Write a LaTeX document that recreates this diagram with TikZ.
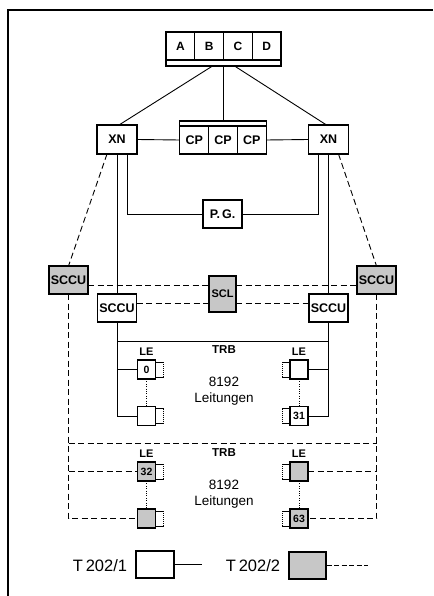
\documentclass[tikz,border=0pt]{standalone}
\usepackage{fontspec}
\setmainfont{Liberation Sans}
\usepackage{tikz}
\usetikzlibrary{positioning,calc}

\begin{document}
\begin{tikzpicture}[x=1pt,y=-1pt,line width=0.9pt,
  box/.style={draw,line width=1.1pt,inner sep=0pt,outer sep=0pt,minimum width=39pt,minimum height=28pt,font=\bfseries\fontsize{12.5}{12}\selectfont},
  cell/.style={draw,line width=1.1pt,inner sep=0pt,outer sep=0pt,minimum width=28.75pt,minimum height=28pt,font=\bfseries\fontsize{12}{12}\selectfont},
  strip/.style={draw,line width=1.1pt,inner sep=0pt,outer sep=0pt,anchor=north west},
  shaded/.style={fill=black!22,line width=1.4pt},
  lebox/.style={draw,line width=1.1pt,inner sep=0pt,outer sep=0pt,minimum width=18pt,minimum height=19pt,font=\bfseries\fontsize{10.5}{10}\selectfont},
  lelabel/.style={font=\bfseries\fontsize{11}{11}\selectfont,inner sep=0pt},
  trblabel/.style={font=\bfseries\fontsize{11.5}{11}\selectfont},
  lines/.style={font=\fontsize{13.5}{16}\selectfont,align=center},
  legtext/.style={font=\fontsize{16.5}{17}\selectfont},
  dashline/.style={dash pattern=on 6pt off 3.5pt},
  dotline/.style={line width=0.9pt,dash pattern=on 0.8pt off 1.6pt}]
\useasboundingbox (0,0) rectangle (433,596);
% frame
\draw[line width=1.2pt] (433,10) -- (8,10) -- (8,596);
% A B C D
\node[cell] (ca) at (180.4,46) {A};
\node[cell,right=0pt of ca] (cb) {B};
\node[cell,right=0pt of cb] (cc) {C};
\node[cell,right=0pt of cc] (cd) {D};
\node[strip,minimum width=115pt,minimum height=6pt] (abus) at (ca.south west) {};
% XN and CP
\node[box,minimum width=40pt,minimum height=29pt] (xnl) at (117,139.5) {XN};
\node[box,minimum width=40pt,minimum height=29pt] (xnr) at (328.5,139.5) {XN};
\node[cell,font=\bfseries\fontsize{12.5}{12}\selectfont] (cpa) at (194.3,140) {CP};
\node[cell,font=\bfseries\fontsize{12.5}{12}\selectfont,right=0pt of cpa] (cpb) {CP};
\node[cell,font=\bfseries\fontsize{12.5}{12}\selectfont,right=0pt of cpb] (cpc) {CP};
\node[strip,anchor=south west,minimum width=86.25pt,minimum height=5pt] (cpbus) at (cpa.north west) {};
\draw ([xshift=-11pt]abus.south) -- ([xshift=2pt]xnl.north);
\draw (abus.south) -- (abus.south |- cpbus.north);
\draw ([xshift=11pt]abus.south) -- ([xshift=-2pt]xnr.north);
\draw (xnl.east) -- (cpa.west);
\draw (cpc.east) -- (xnr.west);
% P.G.
\node[box] (pg) at (222.5,214) {P.\,G.};
\draw ([xshift=10pt]xnl.south) |- (pg.west);
\draw ([xshift=-10.5pt]xnr.south) |- (pg.east);
% SCCU and SCL
\node[box,shaded] (sccul) at (68.5,280) {SCCU};
\node[box,shaded] (sccur) at (376.5,280) {SCCU};
\node[box,shaded,minimum width=27pt,minimum height=36pt,font=\bfseries\fontsize{11}{11}\selectfont] (scl) at (222.5,294) {SCL};
\node[box] (sccuil) at (117,308) {SCCU};
\node[box] (sccuir) at (328.5,308) {SCCU};
\draw[dashline] ([xshift=-10pt]xnl.south) -- (sccul.north);
\draw[dashline] ([xshift=10pt]xnr.south) -- (sccur.north);
\draw (xnl.south) -- (sccuil.north);
\draw (xnr.south) -- (sccuir.north);
\draw[dashline] ([yshift=-5pt]sccul.east) -- ([yshift=9pt]scl.west);
\draw[dashline] ([yshift=9pt]scl.east) -- ([yshift=-5pt]sccur.west);
\draw[dashline] ([yshift=5pt]sccuil.east) -- ([yshift=-9pt]scl.west);
\draw[dashline] ([yshift=-9pt]scl.east) -- ([yshift=5pt]sccuir.west);
% first TRB, T202/1
\path (sccuil.south) ++(0,19) coordinate (trbl);
\path (sccuir.south) ++(0,19) coordinate (trbr);
\draw (trbl) -- (trbr);
\node[trblabel] (trba) at (224,350) {TRB};
\node[lebox] (le0) at (146.5,369.5) {0};
\node[lebox] (le1) at (146.5,416) {};
\node[lebox] (le2) at (299,369.5) {};
\node[lebox] (le31) at (299,416) {31};
\node[lelabel,above=4pt of le0] (le0t) {LE};
\node[lelabel,above=4pt of le2] (le2t) {LE};
\node[lines] (cnta) at (224,391) {8192\\Leitungen};
\draw (sccuil.south) |- (le1.west);
\draw (le0.west -| sccuil.south) -- (le0.west);
\draw (sccuir.south) |- (le31.east);
\draw (le2.east) -- (le2.east -| sccuir.south);
\draw[dotline] (le0) -- (le1);
\draw[dotline] (le2) -- (le31);
% second TRB, T202/2
\path (sccul.south) ++(0,149) coordinate (trb2l);
\path (sccur.south) ++(0,149) coordinate (trb2r);
\draw[dashline] (trb2l) -- (trb2r);
\node[trblabel] (trbb) at (224,453) {TRB};
\node[lebox,shaded] (le32) at (146.5,471.5) {32};
\node[lebox,shaded] (le33) at (146.5,518.5) {};
\node[lebox,shaded] (le62) at (299,471.5) {};
\node[lebox,shaded] (le63) at (299,518.5) {63};
\node[lelabel,above=4pt of le32] (le32t) {LE};
\node[lelabel,above=4pt of le62] (le62t) {LE};
\node[lines] (cntb) at (224,494) {8192\\Leitungen};
\draw[dashline] (sccul.south) |- (le33.west);
\draw[dashline] (le32.west -| sccul.south) -- (le32.west);
\draw[dashline] (sccur.south) |- (le63.east);
\draw[dashline] (le62.east) -- (le62.east -| sccur.south);
\draw[dotline] (le32) -- (le33);
\draw[dotline] (le62) -- (le63);
% line stubs on the LE boxes
\foreach \n in {le0,le1,le32,le33} {
  \draw[line width=0.8pt] ([yshift=-2pt]\n.north east) -- ++(8,0) coordinate (sa)
    ([yshift=2pt]\n.south east) -- ++(8,0) coordinate (sb);
  \draw[line width=0.7pt,dash pattern=on 0.8pt off 1.2pt] (sa) -- (sb);
}
\foreach \n in {le2,le31,le62,le63} {
  \draw[line width=0.8pt] ([yshift=-2pt]\n.north west) -- ++(-8,0) coordinate (sa)
    ([yshift=2pt]\n.south west) -- ++(-8,0) coordinate (sb);
  \draw[line width=0.7pt,dash pattern=on 0.8pt off 1.2pt] (sa) -- (sb);
}
% legend
\node[legtext] (leg1t) at (100,566) {T\,202/1};
\node[draw,line width=1.1pt,minimum width=38pt,minimum height=27pt] (leg1) at (155,564.5) {};
\coordinate (leg1e) at (202,564.5);
\draw (leg1.east) -- (leg1e);
\node[legtext] (leg2t) at (253,566) {T\,202/2};
\node[draw,shaded,minimum width=37pt,minimum height=27pt] (leg2) at (307.5,565.5) {};
\coordinate (leg2e) at (368,565.5);
\draw[dash pattern=on 5pt off 2.5pt] (leg2.east) -- (leg2e);
\end{tikzpicture}
\end{document}
